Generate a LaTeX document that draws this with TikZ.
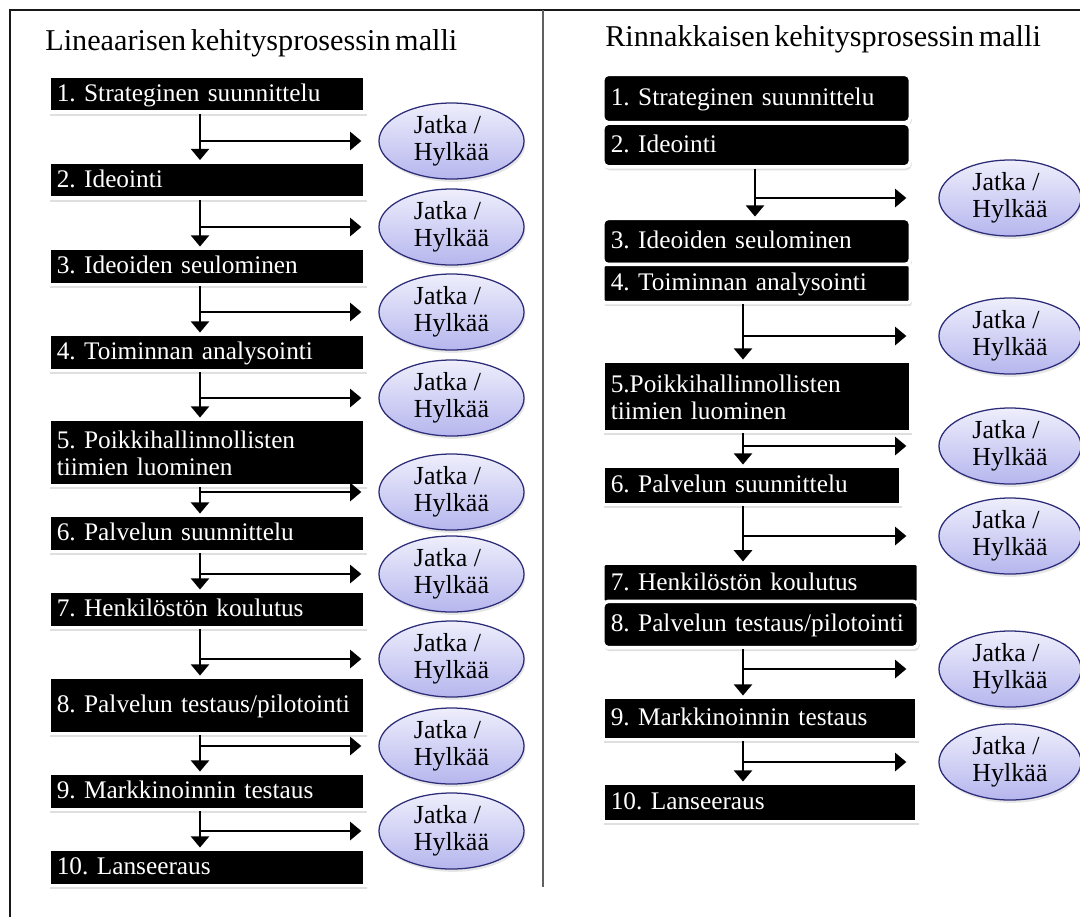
\documentclass[tikz,border=0pt]{standalone}
\usepackage{fontspec}
\setmainfont{Liberation Serif}
\usetikzlibrary{shapes.geometric,arrows.meta,shadows}

\definecolor{lavtop}{RGB}{238,238,252}
\definecolor{lavbot}{RGB}{182,182,238}
\definecolor{lavline}{RGB}{44,44,120}
\definecolor{divgray}{RGB}{96,96,96}
\newcommand{\boxfont}{\fontsize{18}{19.5}\selectfont\spaceskip=0.2em}
\newcommand{\headfont}{\fontsize{21.5}{24}\selectfont\spaceskip=0.15em}
\newcommand{\bstrut}{\rule[-4pt]{0pt}{18pt}}
\frenchspacing
\hyphenpenalty=10000
\exhyphenpenalty=10000

\tikzset{
	stage/.style={anchor=west, fill=black, text=white, draw=white, line width=2.5pt,
		inner xsep=0.2cm, inner ysep=0pt, align=left, text width=#1, font=\boxfont,
		minimum height=0.91cm, execute at begin node=\bstrut,
		drop shadow={shadow xshift=1pt, shadow yshift=-2.5pt, opacity=0.25}},
	stage/.default=7.51cm,
	decide/.style={ellipse, draw=lavline, line width=0.9pt, top color=lavtop, bottom color=lavbot,
		minimum width=3.625cm, minimum height=1.9cm, inner sep=0pt, align=left,
		font=\fontsize{18.5}{19.5}\selectfont,
		drop shadow={shadow xshift=1pt, shadow yshift=-2pt, opacity=0.2}},
	flow/.style={-{Triangle[length=8pt,width=13pt]}, line width=1.4pt},
	branch/.style={flow, shorten >=0.425cm},
	rbranch/.style={flow, shorten >=0.8cm}
}

\begin{document}
\begin{tikzpicture}[x=0.025cm, y=-0.025cm]
	\useasboundingbox (0,0) rectangle (1080,917);
	% frame and divider
	\draw[line width=1.2pt, black!90] (10,917) -- (10,10) -- (1080,10);
	\draw[line width=1.2pt, divgray] (543,10) -- (543,887);
	
	\node (ltitle)[anchor=base west, font=\headfont, inner sep=0pt] at (45,50) {Lineaarisen kehitysprosessin malli};
	\node (rtitle)[anchor=base west, font=\headfont, inner sep=0pt] at (605,46) {Rinnakkaisen kehitysprosessin malli};
	
	% linear model
	\node (l1)[stage] at (47,94) {1. Strateginen suunnittelu};
	\node (l2)[stage] at (47,180) {2. Ideointi};
	\node (l3)[stage] at (47,266.5) {3. Ideoiden seulominen};
	\node (l4)[stage] at (47,352.5) {4. Toiminnan analysointi};
	\node (l5)[stage, minimum height=1.66cm] at (47,452.5) {5. Poikkihallinnollisten\\tiimien luominen};
	\node (l6)[stage] at (47,533.5) {6. Palvelun suunnittelu};
	\node (l7)[stage] at (47,609.5) {7. Henkilöstön koulutus};
	\node (l8)[stage, minimum height=1.41cm] at (47,705.5) {8. Palvelun testaus/pilotointi};
	\node (l9)[stage] at (47,791.5) {9. Markkinoinnin testaus};
	\node (l10)[stage] at (47,867.5) {10. Lanseeraus};
	
	\node (le1)[decide] at (451.5,141) {Jatka /\\Hylkää};
	\node (le2)[decide] at (451.5,227) {Jatka /\\Hylkää};
	\node (le3)[decide] at (451.5,312) {Jatka /\\Hylkää};
	\node (le4)[decide] at (451.5,398) {Jatka /\\Hylkää};
	\node (le5)[decide] at (451.5,492) {Jatka /\\Hylkää};
	\node (le6)[decide] at (451.5,574) {Jatka /\\Hylkää};
	\node (le7)[decide] at (451.5,659) {Jatka /\\Hylkää};
	\node (le8)[decide] at (451.5,746) {Jatka /\\Hylkää};
	\node (le9)[decide] at (451.5,831) {Jatka /\\Hylkää};
	
	\coordinate (lx) at (200,0);
	\draw[flow] (l1.south -| lx) -- (l2.north -| lx);
	\draw[branch] (lx |- le1) -- (le1.west);
	\draw[flow] (l2.south -| lx) -- (l3.north -| lx);
	\draw[branch] (lx |- le2) -- (le2.west);
	\draw[flow] (l3.south -| lx) -- (l4.north -| lx);
	\draw[branch] (lx |- le3) -- (le3.west);
	\draw[flow] (l4.south -| lx) -- (l5.north -| lx);
	\draw[branch] (lx |- le4) -- (le4.west);
	\draw[flow] (l5.south -| lx) -- (l6.north -| lx);
	\draw[branch] (lx |- le5) -- (le5.west);
	\draw[flow] (l6.south -| lx) -- (l7.north -| lx);
	\draw[branch] (lx |- le6) -- (le6.west);
	\draw[flow] (l7.south -| lx) -- (l8.north -| lx);
	\draw[branch] (lx |- le7) -- (le7.west);
	\draw[flow] (l8.south -| lx) -- (l9.north -| lx);
	\draw[branch] (lx |- le8) -- (le8.west);
	\draw[flow] (l9.south -| lx) -- (l10.north -| lx);
	\draw[branch] (lx |- le9) -- (le9.west);
	
	% parallel model
	\node (r1)[stage=7.29cm, rounded corners=4pt, minimum height=1.21cm] at (601,98.5) {1. Strateginen suunnittelu};
	\node (r2)[stage=7.29cm, rounded corners=4pt, minimum height=1.09cm] at (601,145) {2. Ideointi};
	\node (r3)[stage=7.29cm, rounded corners=4pt, minimum height=1.16cm] at (601,241.5) {3. Ideoiden seulominen};
	\node (r4)[stage=7.29cm, rounded corners=2pt, minimum height=0.96cm] at (601,283.5) {4. Toiminnan analysointi};
	\node (r5)[stage=7.29cm, minimum height=1.76cm] at (601,396.5) {5.Poikkihallinnollisten\\tiimien luominen};
	\node (r6)[stage=7.04cm, minimum height=0.96cm] at (601,485.5) {6. Palvelun suunnittelu};
	\node (r7)[stage=7.49cm, rounded corners=2pt, minimum height=0.99cm] at (601,583) {7. Henkilöstön koulutus};
	\node (r8)[stage=7.49cm, rounded corners=4pt, minimum height=1.16cm] at (601,624.5) {8. Palvelun testaus/pilotointi};
	\node (r9)[stage=7.46cm, minimum height=1.06cm] at (601,718.5) {9. Markkinoinnin testaus};
	\node (r10)[stage=7.46cm, minimum height=0.96cm] at (601,802.5) {10. Lanseeraus};
	
	\node (re1)[decide, minimum width=3.55cm] at (1010,198) {Jatka /\\Hylkää};
	\node (re2)[decide, minimum width=3.55cm] at (1010,336) {Jatka /\\Hylkää};
	\node (re3)[decide, minimum width=3.55cm] at (1010,446) {Jatka /\\Hylkää};
	\node (re4)[decide, minimum width=3.55cm] at (1010,536) {Jatka /\\Hylkää};
	\node (re5)[decide, minimum width=3.55cm] at (1010,669) {Jatka /\\Hylkää};
	\node (re6)[decide, minimum width=3.55cm] at (1010,762) {Jatka /\\Hylkää};
	
	\coordinate (rx) at (743,0);
	\coordinate (ra) at (755,0);
	\draw[flow] (r2.south -| ra) -- (r3.north -| ra);
	\draw[rbranch] (ra |- re1) -- (re1.west);
	\draw[flow] (r4.south -| rx) -- (r5.north -| rx);
	\draw[rbranch] (rx |- re2) -- (re2.west);
	\draw[flow] (r5.south -| rx) -- (r6.north -| rx);
	\draw[rbranch] (rx |- re3) -- (re3.west);
	\draw[flow] (r6.south -| rx) -- (r7.north -| rx);
	\draw[rbranch] (rx |- re4) -- (re4.west);
	\draw[flow] (r8.south -| rx) -- (r9.north -| rx);
	\draw[rbranch] (rx |- re5) -- (re5.west);
	\draw[flow] (r9.south -| rx) -- (r10.north -| rx);
	\draw[rbranch] (rx |- re6) -- (re6.west);
\end{tikzpicture}
\end{document}
